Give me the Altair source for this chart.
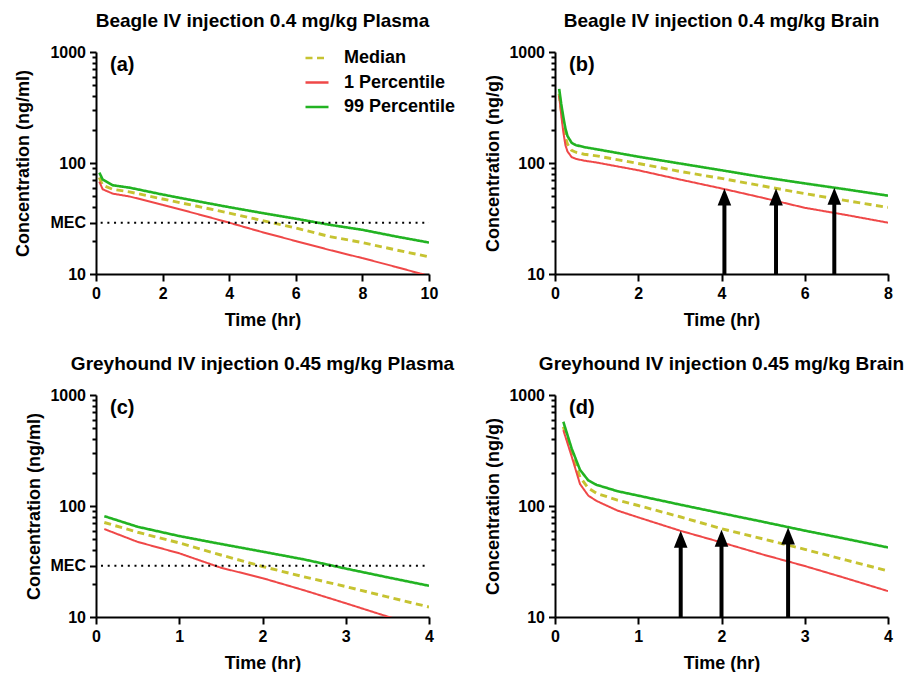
import altair as alt
import pandas as pd

FONT = "Liberation Sans"
SERIES = ["Median", "1 Percentile", "99 Percentile"]
COLORS = ["#C6C331", "#EF4848", "#22B322"]
DASHES = [[7, 4.5], [1, 0], [1, 0]]
WIDTHS = [2.9, 2.0, 2.6]
MEC = 29

# (a) Beagle plasma
a_t = [0.1, 0.2, 0.5, 1, 2, 3, 4, 5, 6, 7, 8, 9, 10]
a_med = [74, 63, 58, 55, 47.4, 41, 35.4, 30.3, 26, 21.8, 19.2, 16.5, 14.3]
a_p1 = [68, 58, 53, 50, 42, 35, 29, 23.8, 19.8, 16.5, 13.9, 11.6, 9.6]
a_p99 = [82, 71, 63, 60, 52, 45.5, 40, 35.4, 31.5, 27.8, 25, 21.8, 19.2]

# (b) Beagle brain
b_t = [0.1, 0.15, 0.2, 0.25, 0.3, 0.4, 0.5, 0.7, 1, 2, 3, 4, 5, 6, 7, 8]
b_med = [420, 300, 220, 170, 148, 130, 125, 120, 116, 99, 84, 72.6, 62, 53, 45.8, 39.8]
b_p1 = [405, 270, 190, 145, 127, 113, 109, 105, 101, 86, 71, 59, 48.5, 39.5, 34, 29]
b_p99 = [466, 340, 260, 205, 175, 152, 145, 139, 133, 114, 99, 86, 74.5, 65.5, 57.8, 50.8]
b_arrow_t = [4.07, 5.31, 6.71]
b_arrow_tip = [59, 59, 60]

# (c) Greyhound plasma
c_t = [0.1, 0.5, 1, 1.5, 2, 2.5, 3, 3.5, 4]
c_med = [71, 58, 46.5, 36.2, 28.5, 23, 18.8, 15.2, 12.3]
c_p1 = [62, 47.5, 37.5, 27.8, 22.4, 17.4, 13.3, 10.1, 7.8]
c_p99 = [81, 65, 53.6, 45.5, 38.8, 33, 27.3, 22.8, 19.1]

# (d) Greyhound brain
d_t = [0.1, 0.2, 0.3, 0.4, 0.5, 0.75, 1, 1.5, 2, 2.5, 3, 3.5, 4]
d_med = [517, 300, 182, 145, 130, 113, 101, 80, 62.5, 50.5, 40.7, 32.5, 26]
d_p1 = [483, 280, 158, 124, 111, 91, 79, 60, 47, 36.5, 28.8, 22.3, 17.1]
d_p99 = [574, 330, 212, 170, 155, 136, 124, 103, 86, 72, 60, 50.5, 42.3]
d_arrow_t = [1.51, 2.0, 2.8]
d_arrow_tip = [60, 61, 64]


def long_df(t, med, p1, p99):
    rows = []
    for name, vals in zip(SERIES, [med, p1, p99]):
        for ti, v in zip(t, vals):
            rows.append({"t": ti, "c": v, "series": name})
    return pd.DataFrame(rows)


LEGEND = alt.Legend(
    title=None, orient="none", legendX=208, legendY=-7,
    symbolType="stroke", symbolSize=529, symbolStrokeWidth=2.7,
    labelFont=FONT, labelFontSize=18, labelFontWeight="bold", labelColor="black",
    labelOffset=14, rowPadding=2.5,
)


def y_axis(title, plasma, tpad):
    minor = [20, 30, 40, 50, 60, 70, 80, 90, 200, 300, 400, 500, 600, 700, 800, 900]
    if plasma:
        minor = [MEC if v == 30 else v for v in minor]
    vals = sorted([10, 100, 1000] + minor)
    major = [10, 100, 1000] + ([MEC] if plasma else [])
    test = "indexof([%s], datum.value) >= 0" % ",".join(str(v) for v in major)
    expr = "indexof([10,100,1000], datum.value) >= 0 ? format(datum.value, 'd') : "
    expr += ("(datum.value == %d ? 'MEC' : '')" % MEC) if plasma else "''"
    return alt.Axis(
        title=title, values=vals, labelExpr=expr, labelOverlap=False,
        tickSize={"condition": {"test": test, "value": 6.5}, "value": 4},
        tickWidth=2, labelPadding=4, titlePadding=tpad,
    )


def panel(df, xmax, xstep, ytitle, plasma, tpad, label, title,
          arrows=None, mec_start=0.1):
    xscale = alt.Scale(domain=[0, xmax], nice=False, zero=False)
    yscale = alt.Scale(type="log", domain=[10, 1000], nice=False)
    xaxis = alt.Axis(title="Time (hr)", values=list(range(0, xmax + 1, xstep)),
                     format="d", labelFlush=False, tickSize=7, tickWidth=2,
                     labelPadding=4, titlePadding=10)
    layers = []
    for name, w in zip(SERIES, WIDTHS):
        layers.append(alt.Chart(df[df["series"] == name]).mark_line(
            clip=True, strokeWidth=w).encode(
            x=alt.X("t:Q", scale=xscale, axis=xaxis),
            y=alt.Y("c:Q", scale=yscale, axis=y_axis(ytitle, plasma, tpad)),
            color=alt.Color("series:N",
                            scale=alt.Scale(domain=SERIES, range=COLORS),
                            legend=LEGEND),
            strokeDash=alt.StrokeDash("series:N",
                                      scale=alt.Scale(domain=SERIES, range=DASHES),
                                      legend=LEGEND),
        ))
    if plasma:
        mec_df = pd.DataFrame({"t": [mec_start], "t2": [xmax], "c": [MEC]})
        layers.append(alt.Chart(mec_df).mark_rule(
            color="black", strokeWidth=2, strokeDash=[2, 4.7]).encode(
            x="t:Q", x2="t2:Q", y="c:Q"))
    if arrows is not None:
        at, tip = arrows
        adf = pd.DataFrame({"t": at, "c": [10] * len(at), "c2": tip})
        layers.append(alt.Chart(adf).mark_rule(
            color="black", strokeWidth=4, y2Offset=10).encode(
            x="t:Q", y="c:Q", y2="c2:Q"))
        layers.append(alt.Chart(adf).mark_point(
            shape="M0,-1L0.8,1L-0.8,1Z", filled=True, color="black",
            opacity=1, size=289, yOffset=8.5).encode(x="t:Q", y="c2:Q"))
    ldf = pd.DataFrame({"l": [label]})
    layers.append(alt.Chart(ldf).mark_text(
        align="left", baseline="middle", font=FONT, fontSize=20,
        fontWeight="bold", color="black").encode(
        text="l:N", x=alt.value(14), y=alt.value(13)))
    return alt.layer(*layers).properties(
        width=333, height=222,
        title=alt.TitleParams(title, font=FONT, fontSize=19, fontWeight="bold",
                              color="black", anchor="middle", frame="group",
                              offset=13),
    )


pa = panel(long_df(a_t, a_med, a_p1, a_p99), 10, 2, "Concentration (ng/ml)",
           True, 17, "(a)", "Beagle IV injection 0.4 mg/kg Plasma", mec_start=0.14)
pb = panel(long_df(b_t, b_med, b_p1, b_p99), 8, 2, "Concentration (ng/g)",
           False, 6, "(b)", "Beagle IV injection 0.4 mg/kg Brain",
           arrows=(b_arrow_t, b_arrow_tip))
pc = panel(long_df(c_t, c_med, c_p1, c_p99), 4, 1, "Concentration (ng/ml)",
           True, 6, "(c)", "Greyhound IV injection 0.45 mg/kg Plasma", mec_start=0.06)
pd_ = panel(long_df(d_t, d_med, d_p1, d_p99), 4, 1, "Concentration (ng/g)",
            False, 6, "(d)", "Greyhound IV injection 0.45 mg/kg Brain",
            arrows=(d_arrow_t, d_arrow_tip))

chart = alt.concat(
    pa, pb, pc, pd_, columns=2, spacing={"row": 121, "column": 126},
    bounds="flush",
).properties(
    padding={"left": 6, "top": 4, "right": 0, "bottom": 0},
).configure_view(stroke=None).configure_axis(
    labelFont=FONT, labelFontSize=16, labelFontWeight="bold", labelColor="black",
    titleFont=FONT, titleFontSize=18, titleFontWeight="bold", titleColor="black",
    domainColor="black", domainWidth=2, tickColor="black", grid=False,
)

chart.save("out.html", embed_options={"renderer": "svg", "actions": False})
